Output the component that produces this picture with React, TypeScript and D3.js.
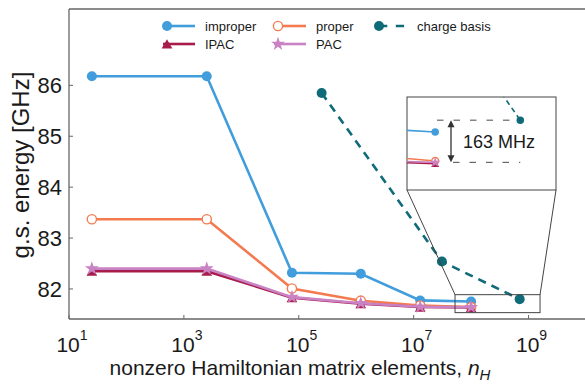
import * as d3 from "d3";

// nH for the four "variational" series
const nH = [25, 2500, 7.6e4, 1.2e6, 1.3e7, 1.0e8];
const improper = [86.18, 86.18, 82.32, 82.30, 81.775, 81.755];
const proper = [83.37, 83.37, 82.01, 81.77, 81.675, 81.645];
const ipac = [82.35, 82.35, 81.83, 81.71, 81.645, 81.635];
const pac = [82.4, 82.4, 81.84, 81.72, 81.65, 81.64];

const chargeN = [2.5e5, 3.1e7, 7e8];
const charge = [85.85, 82.54, 81.8];

const yTicks = [82, 83, 84, 85, 86];
const xTickExp = [1, 3, 5, 7, 9];

const C = {
  improper: "#419ddb",
  proper: "#f47a50",
  ipac: "#a81c4b",
  pac: "#c982c3",
  charge: "#0f6b78",
  spine: "#666",
  text: "#1a1a1a",
  annot: "#333",
};

const W = 585;
const H = 384;
const FONT = "Liberation Sans, Arial, Helvetica, sans-serif";

const x = d3.scaleLog().domain([10, 1e10]).range([69, 586]);
const y = d3.scaleLinear().domain([81.41, 87.5]).range([319, 9]);

// zoom region and inset box
const zoomX: [number, number] = [10 ** 7.72, 10 ** 9.2];
const zoomY: [number, number] = [81.535, 81.888];
const inset = { x0: 407, x1: 556, y0: 97, y1: 190 };
const ix = d3.scaleLog().domain(zoomX).range([inset.x0, inset.x1]);
const iy = d3.scaleLinear().domain(zoomY).range([inset.y1, inset.y0]);

type Sc = { x: (v: number) => number; y: (v: number) => number };

function pts(xs: number[], ys: number[]) {
  return xs.map((v, i) => [v, ys[i]] as [number, number]);
}

const series = [
  { key: "improper", xs: nH, ys: improper, color: C.improper, marker: "circle" },
  { key: "proper", xs: nH, ys: proper, color: C.proper, marker: "open" },
  { key: "ipac", xs: nH, ys: ipac, color: C.ipac, marker: "triangle" },
  { key: "pac", xs: nH, ys: pac, color: C.pac, marker: "star" },
  { key: "charge", xs: chargeN, ys: charge, color: C.charge, marker: "circle", dashed: true },
];

function Marker({ type, cx, cy, color, s = 1 }: { type: string; cx: number; cy: number; color: string; s?: number }) {
  if (type === "circle") return <circle cx={cx} cy={cy} r={5 * s} fill={color} />;
  if (type === "open")
    return <circle cx={cx} cy={cy} r={4.6 * s} fill="#fff" stroke={color} strokeWidth={1.4} />;
  const sym = type === "triangle" ? d3.symbolTriangle : d3.symbolStar;
  const size = type === "triangle" ? 50 * s * s : 60 * s * s;
  return (
    <path
      d={d3.symbol().type(sym).size(size)() || ""}
      transform={`translate(${cx},${cy + (type === "triangle" ? 1.5 * s : 0)})`}
      fill={color}
    />
  );
}

function Lines({ sc, lw, ms }: { sc: Sc; lw: number; ms: number }) {
  return (
    <g>
      {series.map((s) => {
        const line = d3
          .line<[number, number]>()
          .x((d) => sc.x(d[0]))
          .y((d) => sc.y(d[1]));
        const p = pts(s.xs, s.ys);
        return (
          <g key={s.key}>
            <path
              d={line(p) || ""}
              fill="none"
              stroke={s.color}
              strokeWidth={lw}
              strokeDasharray={s.dashed ? `${lw * 3.2},${lw * 2.4}` : undefined}
            />
            {p.map((d, i) => (
              <Marker key={i} type={s.marker} cx={sc.x(d[0])} cy={sc.y(d[1])} color={s.color} s={ms} />
            ))}
          </g>
        );
      })}
    </g>
  );
}

const legendItems = [
  { label: "improper", color: C.improper, marker: "circle", col: 0, row: 0 },
  { label: "proper", color: C.proper, marker: "open", col: 1, row: 0 },
  { label: "charge basis", color: C.charge, marker: "circle", col: 2, row: 0, dashed: true },
  { label: "IPAC", color: C.ipac, marker: "triangle", col: 0, row: 1 },
  { label: "PAC", color: C.pac, marker: "star", col: 1, row: 1 },
];
const legendCols = [167, 278, 379];
const legendRows = [26, 44];

export default function App() {
  const chargeFinal = charge[charge.length - 1];
  const pacFinal = pac[pac.length - 1];
  const arrowX = 451;
  const yTop = iy(chargeFinal);
  const yBot = iy(pacFinal);
  const cbX = ix(chargeN[chargeN.length - 1]);

  return (
    <div style={{ position: "absolute", left: 0, top: 0 }}>
      <svg width={W} height={H} style={{ display: "block", background: "#fff" }} fontFamily={FONT}>
        <defs>
          <clipPath id="main-clip">
            <rect x={69} y={9} width={517} height={310} />
          </clipPath>
          <clipPath id="inset-clip">
            <rect x={inset.x0} y={inset.y0} width={inset.x1 - inset.x0} height={inset.y1 - inset.y0} />
          </clipPath>
        </defs>

        {/* spines */}
        <line x1={69} x2={W} y1={9} y2={9} stroke={C.spine} strokeWidth={1.3} />
        <line x1={69} x2={W} y1={319} y2={319} stroke={C.spine} strokeWidth={1.3} />
        <line x1={69} x2={69} y1={9} y2={319} stroke={C.spine} strokeWidth={1.3} />

        {/* y ticks */}
        {yTicks.map((t) => (
          <g key={t}>
            <line x1={69} x2={73} y1={y(t)} y2={y(t)} stroke={C.spine} strokeWidth={1} />
            <text x={62} y={y(t) + 8} textAnchor="end" fontSize={22} fill={C.text}>
              {t}
            </text>
          </g>
        ))}

        {/* x ticks */}
        {xTickExp.map((e) => (
          <g key={e}>
            <line x1={x(10 ** e)} x2={x(10 ** e)} y1={319} y2={315} stroke={C.spine} strokeWidth={1} />
            <text x={x(10 ** e) + 3} y={352} textAnchor="middle" fontSize={21} fill={C.text}>
              10
              <tspan fontSize={14} dy={-12}>
                {e}
              </tspan>
            </text>
          </g>
        ))}

        {/* axis labels */}
        <text x={300} y={375} textAnchor="middle" fontSize={21} fill={C.text}>
          nonzero Hamiltonian matrix elements,{" "}
          <tspan fontStyle="italic">n</tspan>
          <tspan fontStyle="italic" fontSize={15} dy={5}>
            H
          </tspan>
        </text>
        <text
          transform="translate(29,165) rotate(-90)"
          textAnchor="middle"
          fontSize={24}
          fill={C.text}
        >
          g.s. energy [GHz]
        </text>

        {/* main data */}
        <g clipPath="url(#main-clip)">
          <Lines sc={{ x, y }} lw={2.6} ms={1} />
        </g>

        {/* zoom region + connectors */}
        <rect
          x={x(zoomX[0])}
          y={y(zoomY[1])}
          width={x(zoomX[1]) - x(zoomX[0])}
          height={y(zoomY[0]) - y(zoomY[1])}
          fill="none"
          stroke="#444"
          strokeWidth={1}
        />
        <line x1={inset.x0} y1={inset.y1} x2={x(zoomX[0])} y2={y(zoomY[1])} stroke="#444" strokeWidth={1} />
        <line x1={inset.x1} y1={inset.y1} x2={x(zoomX[1])} y2={y(zoomY[1])} stroke="#444" strokeWidth={1} />

        {/* inset */}
        <rect
          x={inset.x0}
          y={inset.y0}
          width={inset.x1 - inset.x0}
          height={inset.y1 - inset.y0}
          fill="#fff"
          stroke="#444"
          strokeWidth={1}
        />
        <g clipPath="url(#inset-clip)">
          <Lines sc={{ x: ix, y: iy }} lw={1.6} ms={0.75} />
        </g>
        <line
          x1={arrowX - 14}
          x2={cbX}
          y1={yTop}
          y2={yTop}
          stroke={C.annot}
          strokeWidth={0.9}
          strokeDasharray="6.5,10"
        />
        <line
          x1={arrowX + 2}
          x2={cbX}
          y1={yBot}
          y2={yBot}
          stroke={C.annot}
          strokeWidth={0.9}
          strokeDasharray="6.5,10"
        />
        <line x1={arrowX} x2={arrowX} y1={yTop + 5} y2={yBot - 5} stroke={C.annot} strokeWidth={1.3} />
        <path d={`M${arrowX},${yTop} l-3.5,7 l7,0 z`} fill={C.annot} />
        <path d={`M${arrowX},${yBot} l-3.5,-7 l7,0 z`} fill={C.annot} />
        <text x={463} y={(yTop + yBot) / 2 + 6.5} fontSize={18} fill={C.text}>
          163 MHz
        </text>

        {/* legend */}
        {legendItems.map((it) => {
          const lx = legendCols[it.col];
          const ly = legendRows[it.row];
          return (
            <g key={it.label}>
              <line
                x1={lx - 4}
                x2={lx + 28}
                y1={ly}
                y2={ly}
                stroke={it.color}
                strokeWidth={2.6}
                strokeDasharray={it.dashed ? "0,4,8.3,4.5" : undefined}
              />
              <Marker type={it.marker} cx={lx} cy={ly} color={it.color} />
              <text x={lx + 38} y={ly + 4.5} fontSize={13} fill={C.text}>
                {it.label}
              </text>
            </g>
          );
        })}
      </svg>
    </div>
  );
}
